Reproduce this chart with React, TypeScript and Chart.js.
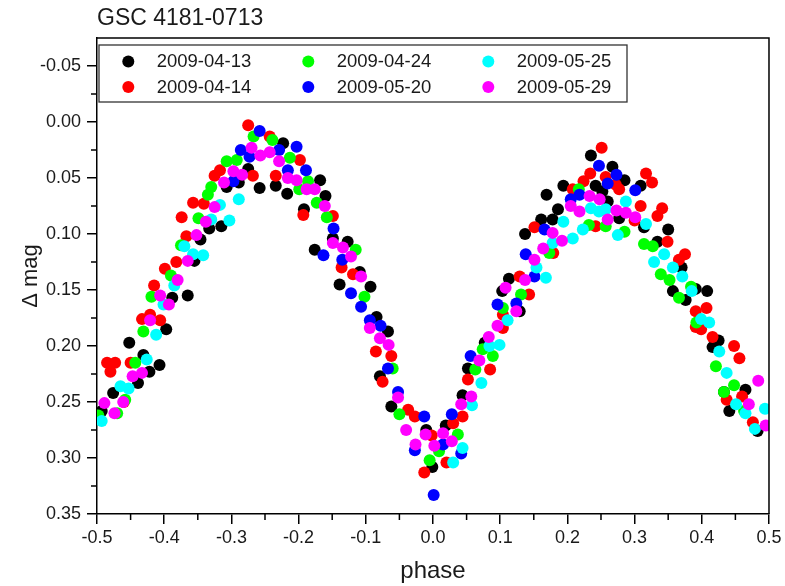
import { useEffect, useRef } from 'react';
import { Chart, registerables } from 'chart.js';

Chart.register(...registerables);

const chartTitle = 'GSC 4181-0713';
const xTitle = 'phase';
const yTitle = 'Δ mag';

const seriesNames = ['2009-04-13', '2009-04-14', '2009-04-24', '2009-05-20', '2009-05-25', '2009-05-29'];
const seriesColors = ['#000000', '#ff0000', '#00ff00', '#0000ff', '#00ffff', '#ff00ff'];

const s0413: [number, number][] = [
  [-0.493, 0.258], [-0.476, 0.242], [-0.452, 0.197], [-0.439, 0.233], [-0.431, 0.208], [-0.422, 0.223],
  [-0.407, 0.217], [-0.397, 0.185], [-0.388, 0.157], [-0.365, 0.155], [-0.355, 0.124], [-0.346, 0.105],
  [-0.333, 0.095], [-0.315, 0.093], [-0.307, 0.058], [-0.289, 0.054], [-0.275, 0.042], [-0.258, 0.059],
  [-0.234, 0.057], [-0.223, 0.019], [-0.217, 0.064], [-0.192, 0.078], [-0.176, 0.114], [-0.168, 0.052],
  [-0.16, 0.066], [-0.149, 0.104], [-0.139, 0.145], [-0.127, 0.107], [-0.109, 0.134], [-0.093, 0.147],
  [-0.084, 0.174], [-0.079, 0.227], [-0.067, 0.187], [-0.062, 0.254], [-0.01, 0.275], [-0.001, 0.308],
  [0.019, 0.271], [0.044, 0.244], [0.052, 0.22], [0.077, 0.197], [0.103, 0.151], [0.113, 0.14],
  [0.129, 0.169], [0.137, 0.1], [0.161, 0.087], [0.169, 0.065], [0.178, 0.087], [0.186, 0.078],
  [0.194, 0.057], [0.235, 0.03], [0.242, 0.057], [0.252, 0.062], [0.26, 0.071], [0.267, 0.04],
  [0.277, 0.086], [0.285, 0.052], [0.309, 0.057], [0.314, 0.094], [0.334, 0.107], [0.35, 0.096],
  [0.357, 0.151], [0.37, 0.13], [0.376, 0.159], [0.391, 0.149], [0.408, 0.151], [0.416, 0.201],
  [0.425, 0.195], [0.433, 0.241], [0.441, 0.258], [0.465, 0.239], [0.483, 0.276],
];

const s0414: [number, number][] = [
  [-0.485, 0.215], [-0.473, 0.215], [-0.48, 0.223], [-0.46, 0.25], [-0.45, 0.215], [-0.433, 0.176],
  [-0.421, 0.172], [-0.406, 0.177], [-0.415, 0.146], [-0.399, 0.131], [-0.382, 0.125], [-0.374, 0.085],
  [-0.367, 0.102], [-0.357, 0.072], [-0.341, 0.073], [-0.325, 0.048], [-0.317, 0.043], [-0.275, 0.003],
  [-0.268, 0.048], [-0.243, 0.013], [-0.234, 0.048], [-0.198, 0.034], [-0.193, 0.083], [-0.149, 0.084],
  [-0.136, 0.13], [-0.119, 0.136], [-0.085, 0.205], [-0.075, 0.232], [-0.062, 0.209], [-0.037, 0.257],
  [-0.027, 0.263], [-0.013, 0.313], [-0.002, 0.28], [0.02, 0.304], [0.03, 0.269], [0.044, 0.263],
  [0.052, 0.23], [0.085, 0.221], [0.104, 0.184], [0.104, 0.172], [0.129, 0.138], [0.143, 0.154],
  [0.151, 0.094], [0.179, 0.117], [0.208, 0.06], [0.224, 0.053], [0.234, 0.046], [0.242, 0.093],
  [0.251, 0.023], [0.257, 0.049], [0.272, 0.056], [0.277, 0.06], [0.3, 0.088], [0.309, 0.075],
  [0.317, 0.046], [0.326, 0.054], [0.334, 0.084], [0.341, 0.077], [0.349, 0.107], [0.366, 0.123],
  [0.375, 0.118], [0.391, 0.169], [0.391, 0.183], [0.399, 0.185], [0.407, 0.166], [0.416, 0.192],
  [0.437, 0.248], [0.448, 0.2], [0.456, 0.211], [0.46, 0.245], [0.476, 0.268],
];

const s0424: [number, number][] = [
  [-0.498, 0.262], [-0.47, 0.26], [-0.458, 0.248], [-0.443, 0.215], [-0.431, 0.187], [-0.419, 0.156],
  [-0.39, 0.137], [-0.375, 0.11], [-0.349, 0.086], [-0.335, 0.065], [-0.33, 0.058], [-0.307, 0.035],
  [-0.292, 0.034], [-0.267, 0.013], [-0.239, 0.016], [-0.213, 0.032], [-0.199, 0.06], [-0.186, 0.053],
  [-0.173, 0.072], [-0.158, 0.085], [-0.115, 0.114], [-0.102, 0.156], [-0.06, 0.22], [-0.05, 0.261],
  [-0.005, 0.302], [0.009, 0.294], [0.037, 0.279], [0.063, 0.221], [0.074, 0.203], [0.089, 0.209],
  [0.104, 0.166], [0.131, 0.154], [0.173, 0.117], [0.217, 0.06], [0.232, 0.092], [0.257, 0.093],
  [0.285, 0.098], [0.314, 0.109], [0.327, 0.111], [0.339, 0.136], [0.352, 0.141], [0.366, 0.157],
  [0.384, 0.147], [0.392, 0.179], [0.421, 0.218], [0.433, 0.241], [0.448, 0.235], [0.463, 0.258],
];

const s0520: [number, number][] = [
  [-0.297, 0.053], [-0.286, 0.025], [-0.273, 0.031], [-0.258, 0.008], [-0.229, 0.025], [-0.216, 0.043],
  [-0.203, 0.022], [-0.189, 0.043], [-0.163, 0.119], [-0.148, 0.095], [-0.135, 0.123], [-0.122, 0.153],
  [-0.107, 0.165], [-0.094, 0.177], [-0.078, 0.182], [-0.067, 0.22], [-0.052, 0.241], [-0.027, 0.293],
  [-0.013, 0.263], [0.001, 0.333], [0.015, 0.288], [0.028, 0.261], [0.042, 0.296], [0.056, 0.209],
  [0.096, 0.163], [0.124, 0.162], [0.138, 0.118], [0.151, 0.138], [0.166, 0.096], [0.205, 0.069],
  [0.218, 0.065], [0.247, 0.039], [0.26, 0.055], [0.273, 0.047], [0.301, 0.061],
];

const s0525: [number, number][] = [
  [-0.493, 0.267], [-0.465, 0.236], [-0.453, 0.238], [-0.426, 0.212], [-0.412, 0.19], [-0.401, 0.163],
  [-0.385, 0.146], [-0.37, 0.111], [-0.357, 0.118], [-0.342, 0.119], [-0.33, 0.087], [-0.317, 0.074],
  [-0.303, 0.088], [-0.289, 0.069], [0.03, 0.304], [0.044, 0.291], [0.058, 0.253], [0.072, 0.233],
  [0.084, 0.2], [0.099, 0.199], [0.111, 0.177], [0.154, 0.13], [0.168, 0.139], [0.178, 0.108],
  [0.194, 0.089], [0.208, 0.104], [0.223, 0.096], [0.235, 0.077], [0.247, 0.08], [0.257, 0.078],
  [0.275, 0.101], [0.287, 0.071], [0.317, 0.091], [0.329, 0.125], [0.344, 0.118], [0.357, 0.13],
  [0.371, 0.138], [0.385, 0.151], [0.399, 0.176], [0.411, 0.179], [0.426, 0.205], [0.437, 0.224],
  [0.451, 0.252], [0.465, 0.26], [0.479, 0.274], [0.494, 0.256],
];

const s0529: [number, number][] = [
  [-0.489, 0.251], [-0.474, 0.26], [-0.461, 0.25], [-0.447, 0.227], [-0.433, 0.224], [-0.421, 0.177],
  [-0.406, 0.155], [-0.393, 0.163], [-0.38, 0.141], [-0.365, 0.124], [-0.352, 0.101], [-0.338, 0.089],
  [-0.325, 0.076], [-0.311, 0.054], [-0.297, 0.044], [-0.284, 0.047], [-0.27, 0.023], [-0.257, 0.03],
  [-0.243, 0.027], [-0.229, 0.035], [-0.216, 0.05], [-0.203, 0.052], [-0.188, 0.06], [-0.176, 0.06],
  [-0.161, 0.075], [-0.149, 0.108], [-0.134, 0.112], [-0.122, 0.12], [-0.107, 0.138], [-0.094, 0.184],
  [-0.079, 0.193], [-0.066, 0.199], [-0.052, 0.246], [-0.04, 0.275], [-0.026, 0.288], [-0.011, 0.279],
  [0.002, 0.289], [0.015, 0.278], [0.028, 0.285], [0.042, 0.252], [0.057, 0.245], [0.069, 0.213],
  [0.083, 0.192], [0.096, 0.182], [0.108, 0.148], [0.124, 0.169], [0.137, 0.141], [0.151, 0.123],
  [0.164, 0.113], [0.178, 0.099], [0.192, 0.106], [0.205, 0.075], [0.218, 0.08], [0.233, 0.066],
  [0.248, 0.069], [0.26, 0.087], [0.273, 0.079], [0.287, 0.081], [0.301, 0.085], [0.47, 0.252],
  [0.484, 0.231], [0.495, 0.271],
];

const seriesData = [s0413, s0414, s0424, s0520, s0525, s0529];

const xMajorTicks = [-0.5, -0.4, -0.3, -0.2, -0.1, 0.0, 0.1, 0.2, 0.3, 0.4, 0.5];
const xMinorTicks = [-0.45, -0.35, -0.25, -0.15, -0.05, 0.05, 0.15, 0.25, 0.35, 0.45];
const yMajorTicks = [-0.05, 0.0, 0.05, 0.1, 0.15, 0.2, 0.25, 0.3, 0.35];
const yMinorTicks = [-0.025, 0.025, 0.075, 0.125, 0.175, 0.225, 0.275, 0.325];

const FONT = "'Liberation Sans', Arial, sans-serif";
const TEXT = '#1a1a1a';

const framePlugin = {
  id: 'frameMinorLegend',
  afterDraw(chart: any) {
    const { ctx, chartArea: a, scales } = chart;
    const xs = scales.x;
    const ys = scales.y;
    ctx.save();
    ctx.strokeStyle = '#000';
    ctx.lineWidth = 1.5;
    ctx.beginPath();
    ctx.moveTo(a.left, a.top);
    ctx.lineTo(a.right, a.top);
    ctx.lineTo(a.right, a.bottom);
    ctx.stroke();
    ctx.beginPath();
    xMinorTicks.forEach((v) => {
      const px = xs.getPixelForValue(v);
      ctx.moveTo(px, a.bottom);
      ctx.lineTo(px, a.bottom + 6);
    });
    yMinorTicks.forEach((v) => {
      const py = ys.getPixelForValue(v);
      ctx.moveTo(a.left, py);
      ctx.lineTo(a.left - 6, py);
    });
    ctx.stroke();

    // legend box
    const bx = a.left + 2;
    const by = a.top + 7;
    const bw = 528;
    const bh = 57;
    ctx.fillStyle = '#ffffff';
    ctx.fillRect(bx, by, bw, bh);
    ctx.strokeStyle = '#333';
    ctx.lineWidth = 1.3;
    ctx.strokeRect(bx, by, bw, bh);
    ctx.font = `18.5px ${FONT}`;
    ctx.textBaseline = 'middle';
    ctx.textAlign = 'left';
    seriesNames.forEach((name, i) => {
      const col = Math.floor(i / 2);
      const row = i % 2;
      const mx = a.left + 31.3 + col * 180;
      const my = a.top + 23.5 + row * 25.6;
      ctx.fillStyle = seriesColors[i];
      ctx.beginPath();
      ctx.arc(mx, my, 6, 0, Math.PI * 2);
      ctx.fill();
      ctx.fillStyle = TEXT;
      ctx.fillText(name, mx + 28.4, my + 0.5);
    });
    ctx.restore();
  },
};

export default function App() {
  const ref = useRef<HTMLCanvasElement | null>(null);
  useEffect(() => {
    if (!ref.current) return;
    const chart = new Chart(ref.current, {
      type: 'scatter',
      data: {
        datasets: seriesNames.map((name, i) => ({
          label: name,
          data: seriesData[i].map(([x, y]) => ({ x, y })),
          backgroundColor: seriesColors[i],
          borderColor: seriesColors[i],
          borderWidth: 0,
          pointRadius: 6,
          pointHoverRadius: 6,
          order: seriesNames.length - 1 - i,
        })),
      },
      options: {
        responsive: false,
        animation: false,
        events: [],
        layout: { padding: { left: 0, right: 15, top: 0, bottom: 0 } },
        plugins: {
          legend: { display: false },
          tooltip: { enabled: false },
          title: {
            display: true,
            text: chartTitle,
            align: 'start',
            fullSize: false,
            color: TEXT,
            font: { family: FONT, size: 23, weight: 'normal' },
            padding: { top: 5, bottom: 5.4 },
          },
        },
        scales: {
          x: {
            type: 'linear',
            min: -0.5,
            max: 0.5,
            afterBuildTicks: (s: any) => {
              s.ticks = xMajorTicks.map((v) => ({ value: v }));
            },
            afterFit: (s: any) => {
              s.height = 72;
            },
            ticks: {
              autoSkip: false,
              maxRotation: 0,
              padding: 3.5,
              color: TEXT,
              font: { family: FONT, size: 18 },
              callback: (v: any) => Number(v).toFixed(1),
            },
            grid: { display: true, drawOnChartArea: false, drawTicks: true, tickLength: 10, color: '#000', lineWidth: 1.5 },
            border: { display: true, color: '#000', width: 1.5 },
            title: {
              display: true,
              text: xTitle,
              color: TEXT,
              font: { family: FONT, size: 24 },
              padding: { top: 0, bottom: 0 },
            },
          },
          y: {
            type: 'linear',
            reverse: true,
            min: -0.075,
            max: 0.35,
            afterBuildTicks: (s: any) => {
              s.ticks = yMajorTicks.map((v) => ({ value: v }));
            },
            afterFit: (s: any) => {
              s.width = 97;
            },
            ticks: {
              autoSkip: false,
              padding: 6,
              color: TEXT,
              font: { family: FONT, size: 18 },
              callback: (v: any) => Number(v).toFixed(2),
            },
            grid: { display: true, drawOnChartArea: false, drawTicks: true, tickLength: 10, color: '#000', lineWidth: 1.5 },
            border: { display: true, color: '#000', width: 1.5 },
            title: {
              display: true,
              text: yTitle,
              color: TEXT,
              font: { family: FONT, size: 22 },
              padding: { top: 18, bottom: 0 },
            },
          },
        },
      },
      plugins: [framePlugin],
    } as any);
    return () => chart.destroy();
  }, []);
  return (
    <div style={{ position: 'absolute', left: 0, top: 0, width: 785, height: 586, background: '#fff' }}>
      <canvas ref={ref} width={785} height={586} style={{ display: 'block' }} />
    </div>
  );
}
